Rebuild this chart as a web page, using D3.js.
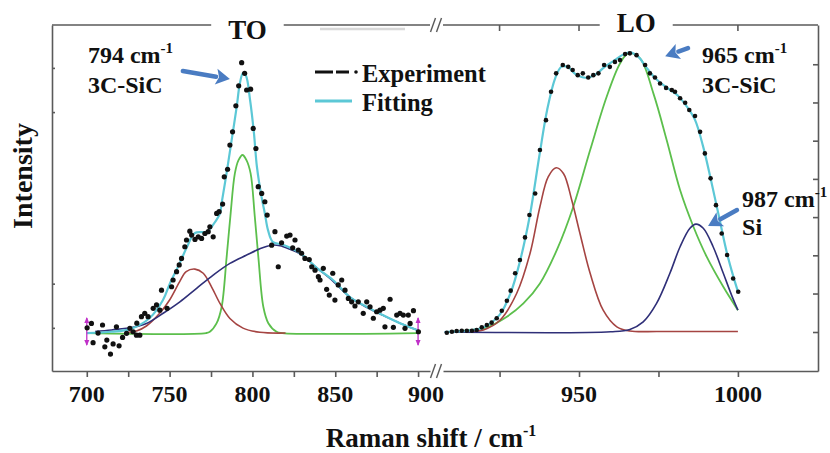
<!DOCTYPE html>
<html><head><meta charset="utf-8">
<script src="https://cdn.jsdelivr.net/npm/d3@7"></script>
<style>
body{margin:0;background:#fff;}
svg{display:block;}
text{font-family:"Liberation Serif","Times New Roman",serif;font-weight:bold;fill:#111;}
</style>
</head><body>
<svg id="c" width="830" height="453"></svg>
<script>
// ---------- DATA (Raman shift cm-1, intensity a.u.) ----------
const leftExp = [[700.2,2.0],[702.8,3.7],[703.8,-3.7],[706.8,0],[709.5,3.1],[710.9,-5.3],[712.1,-2.7],[714.3,-8.1],[715.9,-4.2],[717.9,2.4],[719.5,-4.9],[721.6,-1.7],[724.0,-0.1],[726.0,1.8],[728.0,0.5],[730.0,-0.8],[730.2,3.8],[732.0,-0.8],[733.0,6.3],[735.0,7.6],[737.0,6.3],[740.1,9.5],[742.1,10.8],[744.1,8.8],[745.1,16.5],[748.5,9.5],[751.2,17.8],[752.1,20.4],[754.2,23.6],[755.8,26.2],[757.2,28.7],[759.2,33.2],[760.2,35.8],[762.2,39.2],[763.3,37.7],[765.3,36.0],[767.3,37.0],[769.3,36.4],[771.3,38.3],[773.3,39.0],[774.3,40.9],[776.3,37.0],[778.4,46.0],[779.9,46.7],[782.0,49.6],[783.0,60.1],[785.0,63.0],[786.4,72.3],[788.0,77.4],[790.0,87.4],[791.7,95.1],[793.5,104.0],[795.3,99.9],[796.5,93.5],[798.9,93.8],[800.5,78.7],[802.1,71.0],[803.5,56.3],[805.6,53.7],[807.5,50.5],[808.9,45.4],[813.6,39.0],[811.6,33.8],[815.6,25.5],[817.6,34.7],[820.7,37.3],[822.7,37.7],[825.7,35.8],[824.3,32.8],[827.7,31.9],[829.7,30.7],[831.7,28.7],[834.3,28.3],[835.8,25.5],[837.8,24.2],[839.8,21.7],[840.8,20.4],[842.8,24.9],[844.8,16.8],[846.4,14.6],[848.5,23.0],[849.8,12.7],[851.8,18.5],[853.9,20.4],[855.9,16.5],[857.9,13.3],[859.9,12.0],[861.9,10.4],[863.9,12.0],[866.9,7.6],[869.0,12.0],[871.0,10.1],[873.0,5.7],[875.0,8.2],[877.0,8.8],[879.0,9.5],[880.0,2.4],[883.1,13.0],[885.1,2.2],[887.1,6.9],[889.1,7.6],[891.1,6.9],[892.1,1.8],[894.1,6.9],[895.2,3.7],[897.2,8.6],[900.2,0.5]];

const leftFit = [[700,0],[715,0.5],[726,1.5],[738,5.8],[746,12.7],[750.2,19.1],[756.2,27],[760.4,33],[765.3,38.5],[772.5,39],[776.1,41.5],[780.4,46],[781.4,50],[784.4,61.5],[787.4,74],[790.5,87],[792.4,96],[794.3,100],[796.1,99],[798.5,90],[800.9,77],[802.7,64],[805.6,52],[807.5,46],[809.4,39.6],[812.4,35],[818.4,34],[828.7,30.8],[839,25],[848.6,20.4],[858.9,13.8],[869.2,10],[878.8,6.9],[889.1,3.8],[899.4,1.2]];
const leftGreen = [[700,0],[772,0],[774.3,0.5],[778.4,3.8],[781.4,10],[784.4,29],[786.7,45],[789.4,61.4],[791.6,66.5],[794,68.5],[796.4,66.5],[798.9,61.4],[801.4,45],[803.6,29],[806.6,10],[809.6,3.8],[814.6,0.5],[818,0],[900,0]];
const leftRed = [[725,0.3],[730,0.8],[736,2.7],[744,7.6],[750,12.7],[756,19.7],[760,23.6],[765.3,24.6],[770.3,23],[775.3,17.8],[780.4,11.4],[786.4,5.6],[794.3,1.9],[804.5,0.3],[820,0]];
const leftNavy = [[705,0.6],[715,1.2],[727.8,2.2],[736,3.7],[746.1,7.6],[756.2,12],[766.3,17.2],[776.3,22.3],[786.4,26.8],[796.5,30],[804.5,32.4],[811.6,33.8],[816.6,33.6],[822.7,32.2],[828.7,30.5],[839,25],[848.6,20],[858.9,13.8],[869.2,9.8],[878.8,6.8],[889.1,3.8],[899.4,1.2]];

const rightExp = [[908.4,0.1],[910.0,0.5],[911.5,0.8],[913.1,0.9],[914.7,0.9],[916.3,0.9],[917.8,1.2],[919.4,2.2],[921.0,3.1],[922.5,4.0],[924.1,5.7],[925.7,8.6],[927.3,12.4],[928.5,16.3],[929.9,23.0],[931.4,28.1],[933.0,36.8],[934.4,45.4],[936.2,53.7],[937.7,70.4],[939.6,81.9],[941.2,92.8],[942.8,99.9],[944.9,103.1],[946.6,102.4],[948.0,101.2],[949.6,99.2],[951.2,99.9],[952.9,98.3],[954.5,99.2],[956.1,99.9],[957.9,103.1],[959.7,102.4],[961.3,104.3],[962.9,105.0],[964.5,107.3],[966.0,107.6],[968.1,106.9],[970.8,103.1],[972.3,99.9],[973.9,98.3],[975.5,96.0],[977.4,94.3],[979.2,93.5],[980.2,92.8],[981.8,90.3],[983.4,88.6],[984.7,85.8],[986.5,83.5],[988.1,77.4],[989.6,69.1],[991.4,59.5],[993.1,49.2],[994.9,38.3],[996.6,30.0],[998.5,21.0],[1000.1,15.9]];
const rightFit = [[907.7,0.4],[915,0.9],[920,2.2],[925,7],[928.5,15.5],[931.5,28],[934.5,45],[937.5,68],[940,86],[942.5,98],[944.5,102.5],[946.5,102.3],[949,99.5],[952,98.2],[955,99.3],[958,102.3],[961,104.8],[964,107.2],[966,108],[968.5,106.5],[971,102.5],[974,98],[977.5,94.5],[981,91.5],[984,87],[986.5,82],[989,72],[991.5,59],[994,45],[996.5,31],[998.5,22],[1000,16]];
const rightGreen = [[910,0.5],[917.8,1.4],[921,2.2],[927.3,6.3],[932.5,11.4],[937.7,19.1],[943,31.9],[948.2,48.6],[953.5,70.4],[958.7,90.9],[962.9,103.7],[965.5,107.6],[969.2,105.7],[973.4,92.2],[977.6,74.2],[981.8,55],[986,40.9],[990.2,29.3],[995.4,17.8],[1000,8.8]];
const rightRed = [[908,0.5],[915,0.7],[919.9,1.2],[925.2,5],[930.4,15.3],[934.6,30.7],[937.7,48.6],[940.3,60.1],[942.8,63.6],[945.1,61.4],[947.7,51.2],[950.3,38.3],[953.5,23],[957.6,8.8],[961.9,2.4],[966,0.8],[975,0.6],[1000,0.6]];
const rightNavy = [[907.7,0.4],[960,0.5],[966,1.4],[970.2,4.3],[974.4,11.4],[978.6,23],[981.8,33.2],[984.9,40.3],[986.8,41.9],[989.1,40.3],[992.2,33.2],[995.4,23],[998,14.6],[1000,8.8]];

const leftXTicks = [700,725,750,775,800,825,850,875,900];
const leftXLabels = [700,750,800,850,900];
const rightXTicks = [925,950,975,1000];
const rightTopTicks = [925,950,1000];
const rightXLabels = [950,1000];
const leftYTicks = [2,19,85,102];
const rightYTicks = [0.4,15.2,29.9,44.6,59.3,74.0,88.7,103.4];
const endMarkers = [700,900];

const xTitle = "Raman shift / cm";
const yTitle = "Intensity";
const titles = [{panel:"L", text:"TO", x:797, y:113}, {panel:"R", text:"LO", x:968, y:115.8}];
const legendItems = ["Experiment","Fitting"];
const notes = [
  {panel:"L", l1:"794 cm", l2:"3C-SiC", x:700.7, y1:103.8, y2:92.3, a:[758,100.8,786.4,97.7]},
  {panel:"R", l1:"965 cm", l2:"3C-SiC", x:988.7, y1:103.8, y2:92.3, a:[984.3,109.6,977.1,106.5]},
  {panel:"R", l1:"987 cm", l2:"Si", x:1001.3, y1:48.3, y2:37.9, a:[999.7,47.3,990.6,41.2]}
];

// ---------- LAYOUT ----------
const svg = d3.select("#c");
const topY = 25, botY = 371;
const xL = d3.scaleLinear().domain([679,907.2]).range([52,430]);
const xR = d3.scaleLinear().domain([907.2,1025.2]).range([443,818]);
const y = d3.scaleLinear().domain([-14.6,118.5]).range([botY,topY]);
const axisCol = "#5a5a5a";
const C = {fit:"#5cc8d6", green:"#5cbf4c", red:"#a54442", navy:"#2f2f78", arrow:"#4a7cc2", mag:"#c030c8"};

function styleAxis(g){ g.selectAll("path,line").attr("stroke",axisCol).attr("stroke-width",1.6); g.selectAll("text").remove(); }
svg.append("g").attr("transform",`translate(0,${botY})`)
  .call(d3.axisBottom(xL).tickValues(leftXTicks).tickSize(6).tickSizeOuter(0)).call(styleAxis);
svg.append("g").attr("transform",`translate(0,${botY})`)
  .call(d3.axisBottom(xR).tickValues(rightXTicks).tickSize(6).tickSizeOuter(0)).call(styleAxis);
const lab = svg.append("g").attr("font-size",24).attr("text-anchor","middle");
leftXLabels.forEach(v=>{ lab.append("text").attr("x",xL(v)+(v===900?8:0)).attr("y",botY+31).text(v); });
rightXLabels.forEach(v=>{ lab.append("text").attr("x",xR(v)).attr("y",botY+31).text(v); });

svg.append("g").attr("transform",`translate(52,0)`)
  .call(d3.axisRight(y).tickValues(leftYTicks).tickSize(3).tickSizeOuter(0)).call(styleAxis);
svg.append("g").attr("transform",`translate(818,0)`)
  .call(d3.axisLeft(y).tickValues(rightYTicks).tickSize(5).tickSizeOuter(0)).call(styleAxis);

const tG = svg.append("g").attr("font-size",27).attr("text-anchor","middle");
const gaps = {};
titles.forEach(t=>{
  const sx = t.panel==="L"?xL:xR;
  const el = tG.append("text").attr("x",sx(t.x)).attr("y",y(t.y)).text(t.text);
  const w = el.node().getComputedTextLength();
  gaps[t.panel] = [sx(t.x)-w/2-17, sx(t.x)+w/2+17];
});
const topL = svg.append("g");
[[52,gaps.L[0]],[gaps.L[1],430],[443,gaps.R[0]],[gaps.R[1],818]].forEach(s=>{
  topL.append("line").attr("x1",s[0]).attr("x2",s[1]).attr("y1",topY).attr("y2",topY)
    .attr("stroke",axisCol).attr("stroke-width",1.6);
});
rightTopTicks.forEach(v=>{
  topL.append("line").attr("x1",xR(v)).attr("x2",xR(v)).attr("y1",topY).attr("y2",topY+6)
    .attr("stroke",axisCol).attr("stroke-width",1.6);
});
svg.append("line").attr("x1",320).attr("x2",405).attr("y1",29).attr("y2",29).attr("stroke","#d8d8d8").attr("stroke-width",2.5);

[topY,botY].forEach(yy=>{
  [433,439].forEach(bx=>{
    svg.append("line").attr("x1",bx-2.5).attr("x2",bx+2.5).attr("y1",yy+7).attr("y2",yy-7)
      .attr("stroke",axisCol).attr("stroke-width",1.4);
  });
});

function drawCurve(data, sx, col, w){
  svg.append("path").datum(data)
    .attr("d", d3.line().x(d=>sx(d[0])).y(d=>y(d[1])).curve(d3.curveCatmullRom.alpha(0.5)))
    .attr("fill","none").attr("stroke",col).attr("stroke-width",w);
}
drawCurve(leftGreen,xL,C.green,1.8);
drawCurve(leftRed,xL,C.red,1.6);
drawCurve(leftNavy,xL,C.navy,1.6);
drawCurve(leftFit,xL,C.fit,2.2);
drawCurve(rightGreen,xR,C.green,1.8);
drawCurve(rightRed,xR,C.red,1.6);
drawCurve(rightNavy,xR,C.navy,1.6);
drawCurve(rightFit,xR,C.fit,2.2);

endMarkers.forEach(v=>{
  const cx = xL(v), cy = y(0);
  const g = svg.append("g").attr("stroke",C.mag).attr("fill",C.mag);
  g.append("line").attr("x1",cx).attr("x2",cx).attr("y1",cy-15).attr("y2",cy+12).attr("stroke-width",1.3);
  g.append("path").attr("d",`M${cx-2.5},${cy-10}L${cx},${cy-16}L${cx+2.5},${cy-10}Z`).attr("stroke","none");
  g.append("path").attr("d",`M${cx-2.5},${cy+7}L${cx},${cy+13}L${cx+2.5},${cy+7}Z`).attr("stroke","none");
});

svg.append("g").selectAll("circle").data(leftExp).join("circle")
  .attr("cx",d=>xL(d[0])).attr("cy",d=>y(d[1])).attr("r",2.6).attr("fill","#111");
svg.append("g").selectAll("circle").data(rightExp).join("circle")
  .attr("cx",d=>xR(d[0])).attr("cy",d=>y(d[1])).attr("r",2.3).attr("fill","#111");

const lg = svg.append("g");
lg.append("path").attr("d","M315,72h18M336,72h13").attr("stroke","#111").attr("stroke-width",3.2);
lg.append("circle").attr("cx",356).attr("cy",72).attr("r",1.8).attr("fill","#111");
lg.append("line").attr("x1",315).attr("x2",352).attr("y1",101).attr("y2",101).attr("stroke",C.fit).attr("stroke-width",3);
lg.append("text").attr("x",362).attr("y",82).attr("font-size",24.5).text(legendItems[0]);
lg.append("text").attr("x",362).attr("y",111).attr("font-size",24.5).text(legendItems[1]);

notes.forEach(n=>{
  const sx = n.panel==="L"?xL:xR;
  const t1 = svg.append("text").attr("x",sx(n.x)).attr("y",y(n.y1)).attr("font-size",24);
  t1.append("tspan").text(n.l1);
  t1.append("tspan").attr("dy",-10).attr("font-size",15).text("-1");
  svg.append("text").attr("x",sx(n.x)).attr("y",y(n.y2)).attr("font-size",24).text(n.l2);
  const x1=sx(n.a[0]), y1=y(n.a[1]), x2=sx(n.a[2]), y2=y(n.a[3]);
  const ang = Math.atan2(y2-y1,x2-x1), L=14, H=8;
  const bx = x2-L*Math.cos(ang), by = y2-L*Math.sin(ang);
  svg.append("line").attr("x1",x1).attr("y1",y1).attr("x2",bx).attr("y2",by)
    .attr("stroke",C.arrow).attr("stroke-width",4.5).attr("stroke-linecap","round");
  const px = -Math.sin(ang)*H, py = Math.cos(ang)*H;
  svg.append("path").attr("d",`M${x2},${y2}L${bx+px},${by+py}L${bx+3*Math.cos(ang)},${by+3*Math.sin(ang)}L${bx-px},${by-py}Z`)
    .attr("fill",C.arrow);
});

const xt = svg.append("text").attr("x",431).attr("y",447).attr("font-size",27).attr("text-anchor","middle");
xt.append("tspan").text(xTitle);
xt.append("tspan").attr("dy",-11).attr("font-size",16).text("-1");
svg.append("text").attr("transform","translate(32,176) rotate(-90)").attr("font-size",28)
  .attr("text-anchor","middle").text(yTitle);
</script>
</body></html>
